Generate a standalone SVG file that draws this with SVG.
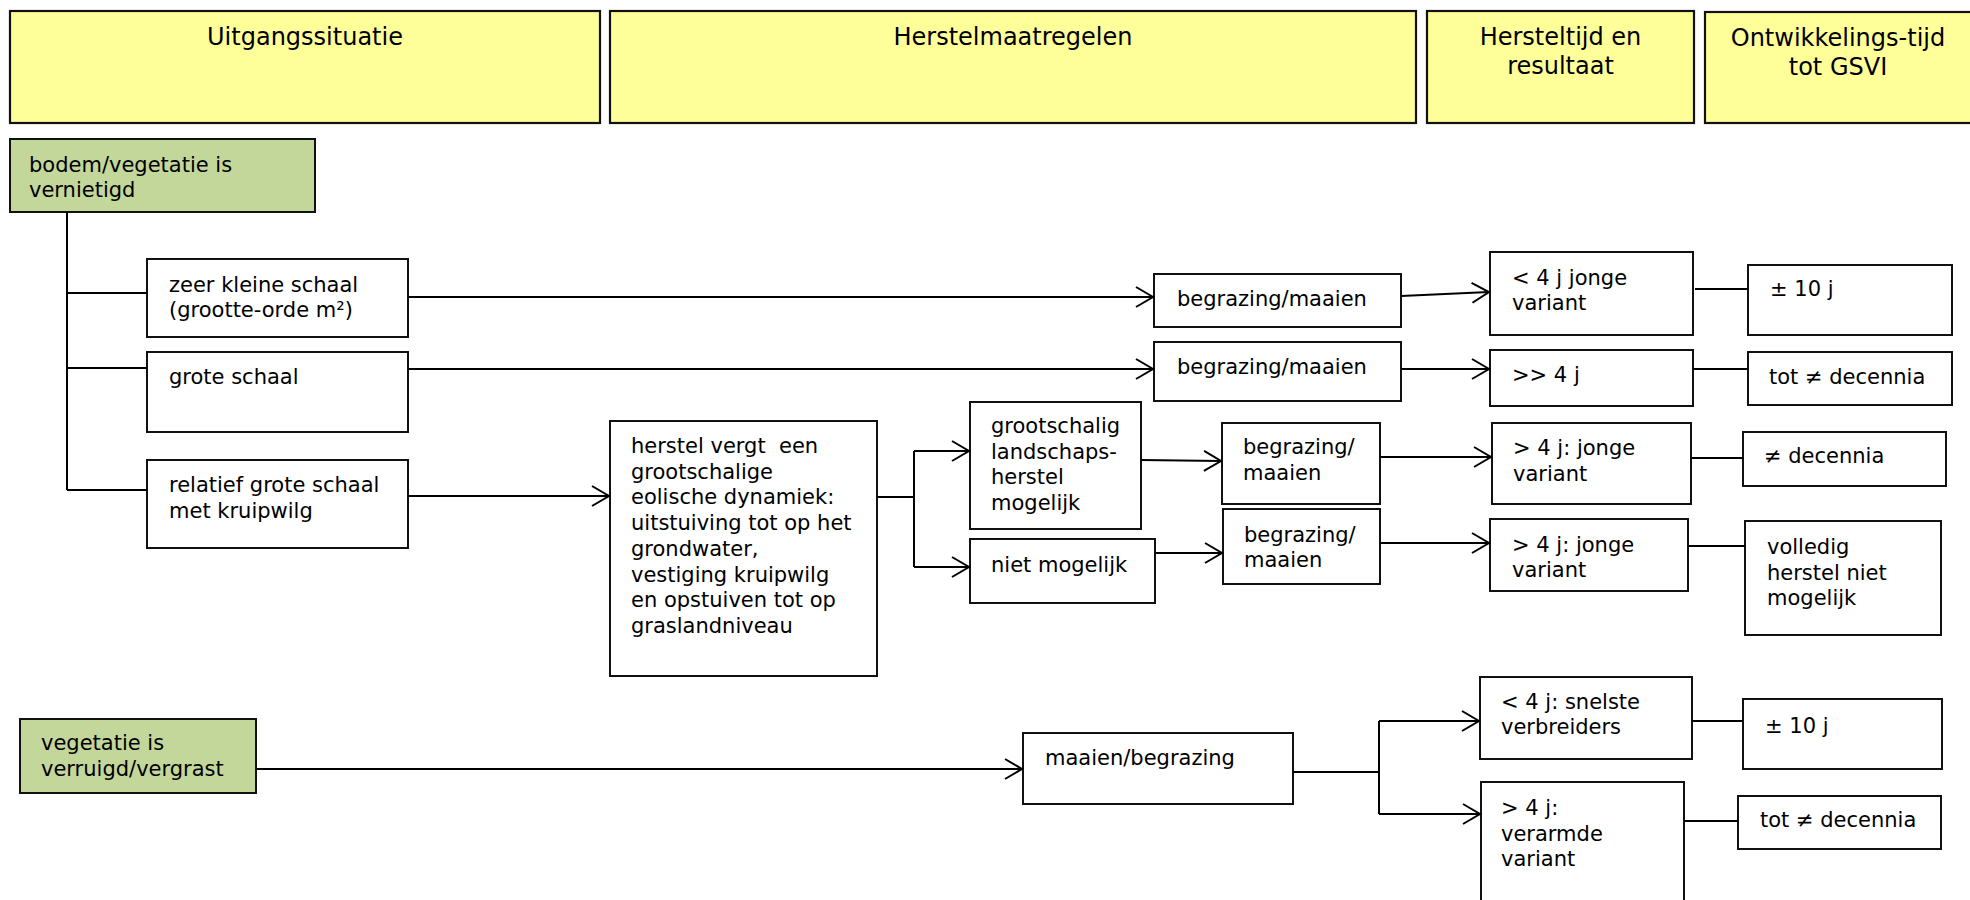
<svg xmlns="http://www.w3.org/2000/svg" width="1970" height="900" viewBox="0 0 1970 900">
<style>
.hdr{fill:#FFFF99;stroke:#111;stroke-width:2.2}
.grn{fill:#C4D79B;stroke:#111;stroke-width:2}
.box{fill:#fff;stroke:#111;stroke-width:2}
text{font-family:"DejaVu Sans","Verdana",sans-serif;fill:#000}
.ht{font-size:24px;text-anchor:middle}
.bt{font-size:21px}
.con path{fill:none;stroke:#000;stroke-width:2}
</style>
<defs>
<marker id="arr" markerUnits="userSpaceOnUse" viewBox="-2 -2 22 24" markerWidth="22" markerHeight="24" refX="17" refY="10" orient="auto">
<path d="M0,0 L17,10 L0,20" fill="none" stroke="#000" stroke-width="2"/>
</marker>
</defs>

<g id="hdr1"><rect class="hdr" x="10" y="11" width="590" height="112"/><text class="ht" x="305" y="45">Uitgangssituatie</text></g>
<g id="hdr2"><rect class="hdr" x="610" y="11" width="806" height="112"/><text class="ht" x="1013" y="45">Herstelmaatregelen</text></g>
<g id="hdr3"><rect class="hdr" x="1427" y="11" width="267" height="112"/><text class="ht" x="1560.5" y="45">Hersteltijd en</text><text class="ht" x="1560.5" y="74">resultaat</text></g>
<g id="hdr4"><rect class="hdr" x="1705" y="12" width="272" height="111"/><text class="ht" x="1838" y="46">Ontwikkelings-tijd</text><text class="ht" x="1838" y="75">tot GSVI</text></g>

<g id="bodem"><rect class="grn" x="10" y="139" width="305" height="73"/><text class="bt" x="29" y="172">bodem/vegetatie is</text><text class="bt" x="29" y="197">vernietigd</text></g>
<g id="vegetatie"><rect class="grn" x="20" y="719" width="236" height="74"/><text class="bt" x="41" y="750">vegetatie is</text><text class="bt" x="41" y="776">verruigd/vergrast</text></g>

<g id="zeerklein"><rect class="box" x="147" y="259" width="261" height="78"/><text class="bt" x="169" y="292">zeer kleine schaal</text><text class="bt" x="169" y="317">(grootte-orde m²)</text></g>
<g id="groot"><rect class="box" x="147" y="352" width="261" height="80"/><text class="bt" x="169" y="384">grote schaal</text></g>
<g id="relatief"><rect class="box" x="147" y="460" width="261" height="88"/><text class="bt" x="169" y="492">relatief grote schaal</text><text class="bt" x="169" y="518">met kruipwilg</text></g>

<g id="herstel"><rect class="box" x="610" y="421" width="267" height="255"/>
<text class="bt" x="631" y="453" xml:space="preserve">herstel vergt  een</text>
<text class="bt" x="631" y="478.7">grootschalige</text>
<text class="bt" x="631" y="504.4">eolische dynamiek:</text>
<text class="bt" x="631" y="530.1">uitstuiving tot op het</text>
<text class="bt" x="631" y="555.8">grondwater,</text>
<text class="bt" x="631" y="581.5">vestiging kruipwilg</text>
<text class="bt" x="631" y="607.2">en opstuiven tot op</text>
<text class="bt" x="631" y="632.9">graslandniveau</text></g>

<g id="grootschalig"><rect class="box" x="970" y="402" width="171" height="127"/>
<text class="bt" x="991" y="433">grootschalig</text><text class="bt" x="991" y="458.7">landschaps-</text><text class="bt" x="991" y="484.4">herstel</text><text class="bt" x="991" y="510.1">mogelijk</text></g>
<g id="nietmogelijk"><rect class="box" x="970" y="539" width="185" height="64"/><text class="bt" x="991" y="572">niet mogelijk</text></g>

<g id="begr1"><rect class="box" x="1154" y="274" width="247" height="53"/><text class="bt" x="1177" y="306">begrazing/maaien</text></g>
<g id="begr2"><rect class="box" x="1154" y="342" width="247" height="59"/><text class="bt" x="1177" y="374">begrazing/maaien</text></g>
<g id="begr3"><rect class="box" x="1222" y="423" width="158" height="81"/><text class="bt" x="1243" y="454">begrazing/</text><text class="bt" x="1243" y="480">maaien</text></g>
<g id="begr4"><rect class="box" x="1223" y="509" width="157" height="75"/><text class="bt" x="1244" y="542">begrazing/</text><text class="bt" x="1244" y="567">maaien</text></g>
<g id="maaien"><rect class="box" x="1023" y="733" width="270" height="71"/><text class="bt" x="1045" y="765">maaien/begrazing</text></g>

<g id="res1"><rect class="box" x="1490" y="252" width="203" height="83"/><text class="bt" x="1512" y="285">&lt; 4 j jonge</text><text class="bt" x="1512" y="310">variant</text></g>
<g id="res2"><rect class="box" x="1490" y="350" width="203" height="56"/><text class="bt" x="1512" y="382">&gt;&gt; 4 j</text></g>
<g id="res3"><rect class="box" x="1492" y="423" width="199" height="81"/><text class="bt" x="1513" y="455">&gt; 4 j: jonge</text><text class="bt" x="1513" y="481">variant</text></g>
<g id="res4"><rect class="box" x="1490" y="519" width="198" height="72"/><text class="bt" x="1512" y="552">&gt; 4 j: jonge</text><text class="bt" x="1512" y="577">variant</text></g>
<g id="res5"><rect class="box" x="1480" y="677" width="212" height="82"/><text class="bt" x="1501" y="709">&lt; 4 j: snelste</text><text class="bt" x="1501" y="734">verbreiders</text></g>
<g id="res6"><rect class="box" x="1481" y="782" width="203" height="130"/><text class="bt" x="1501" y="815">&gt; 4 j:</text><text class="bt" x="1501" y="841">verarmde</text><text class="bt" x="1501" y="866">variant</text></g>

<g id="dev1"><rect class="box" x="1748" y="265" width="204" height="70"/><text class="bt" x="1770" y="296">± 10 j</text></g>
<g id="dev2"><rect class="box" x="1748" y="352" width="204" height="53"/><text class="bt" x="1769" y="384">tot ≠ decennia</text></g>
<g id="dev3"><rect class="box" x="1743" y="432" width="203" height="54"/><text class="bt" x="1764" y="463">≠ decennia</text></g>
<g id="dev4"><rect class="box" x="1745" y="521" width="196" height="114"/><text class="bt" x="1767" y="554">volledig</text><text class="bt" x="1767" y="580">herstel niet</text><text class="bt" x="1767" y="605">mogelijk</text></g>
<g id="dev5"><rect class="box" x="1743" y="699" width="199" height="70"/><text class="bt" x="1765" y="733">± 10 j</text></g>
<g id="dev6"><rect class="box" x="1738" y="796" width="203" height="53"/><text class="bt" x="1760" y="827">tot ≠ decennia</text></g>

<g id="connectors" class="con">
<path d="M67,212 V490"/>
<path d="M67,293 H147"/>
<path d="M67,368 H147"/>
<path d="M67,490 H147"/>
<path d="M408,297 H1153" marker-end="url(#arr)"/>
<path d="M408,369 H1153" marker-end="url(#arr)"/>
<path d="M408,496 H609" marker-end="url(#arr)"/>
<path d="M877,497 H914"/>
<path d="M914,451 V567"/>
<path d="M914,451 H969" marker-end="url(#arr)"/>
<path d="M914,567 H969" marker-end="url(#arr)"/>
<path d="M1141,460 L1221,461" marker-end="url(#arr)"/>
<path d="M1155,553 H1222" marker-end="url(#arr)"/>
<path d="M1401,296 L1489,292" marker-end="url(#arr)"/>
<path d="M1401,369 H1489" marker-end="url(#arr)"/>
<path d="M1380,457 H1491" marker-end="url(#arr)"/>
<path d="M1380,543 H1489" marker-end="url(#arr)"/>
<path d="M1695,289 H1748"/>
<path d="M1693,369 H1748"/>
<path d="M1691,458 H1743"/>
<path d="M1689,546 H1745"/>
<path d="M256,769 H1022" marker-end="url(#arr)"/>
<path d="M1293,772 H1379"/>
<path d="M1379,721 V814"/>
<path d="M1379,721 H1479" marker-end="url(#arr)"/>
<path d="M1379,814 H1480" marker-end="url(#arr)"/>
<path d="M1692,721 H1743"/>
<path d="M1684,821 H1738"/>
</g>
</svg>
